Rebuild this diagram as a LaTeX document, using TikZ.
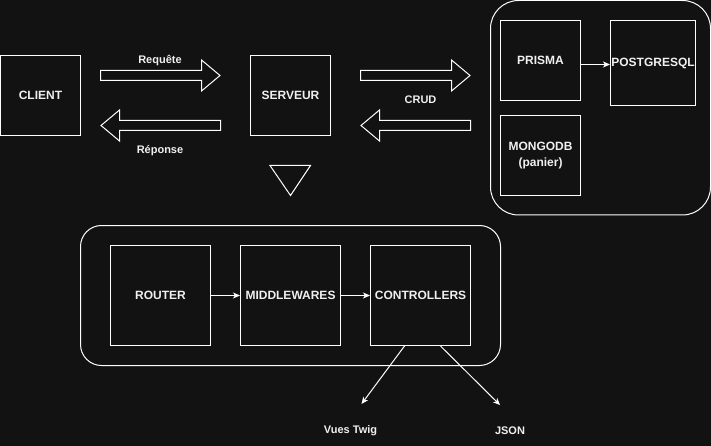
\documentclass[tikz,border=0pt]{standalone}
\usepackage{fontspec}
\setmainfont{Liberation Sans}
\usetikzlibrary{arrows.meta}
\definecolor{bg}{HTML}{121212}
\definecolor{fg}{HTML}{F0F0F0}
\begin{document}
\begin{tikzpicture}[x=1pt,y=-1pt,
  box/.style={draw=white,line width=1pt,inner sep=0pt,text=fg,
    font=\bfseries\fontsize{12}{16}\selectfont,align=center},
  lbl/.style={text=fg,font=\bfseries\fontsize{11}{13}\selectfont,inner sep=0pt},
  conn/.style={draw=white,line width=1pt,-{Stealth[length=7pt,width=6pt,inset=2pt]}},
  blockarrow/.style={draw=white,line width=1pt,line join=miter},
  container/.style={draw=white,line width=1pt}]
\fill[bg] (0,0) rectangle (711,446);
\useasboundingbox (0,0) rectangle (711,446);

% containers
\draw[container,rounded corners=28pt] (490.5,0.5) rectangle (710.5,215);
\draw[container,rounded corners=21pt] (80.5,225.5) rectangle (500.5,365.5);

% boxes
\node[box,minimum width=80pt,minimum height=80pt] (client) at (40.5,95.5) {CLIENT};
\node[box,minimum width=80pt,minimum height=80pt] (serveur) at (290.5,95.5) {SERVEUR};
\node[box,minimum width=80pt,minimum height=80pt] (prisma) at (540.5,60.5) {PRISMA};
\node[box,minimum width=85pt,minimum height=85pt] (postgres) at (653,63) {POSTGRESQL};
\node[box,minimum width=80pt,minimum height=80pt] (mongo) at (540.5,155.5) {MONGODB\\(panier)};
\node[box,minimum width=100pt,minimum height=100pt] (router) at (160.5,295.5) {ROUTER};
\node[box,minimum width=100pt,minimum height=100pt] (middle) at (290.5,295.5) {MIDDLEWARES};
\node[box,minimum width=100pt,minimum height=100pt] (ctrl) at (420.5,295.5) {CONTROLLERS};

% block arrows
\draw[blockarrow] (100.5,70.5) -- (201.5,70.5) -- (201.5,60) -- (220,75.5) -- (201.5,91) -- (201.5,80.5) -- (100.5,80.5) -- cycle;
\draw[blockarrow] (220.5,120.5) -- (119.5,120.5) -- (119.5,110) -- (101,125.5) -- (119.5,141) -- (119.5,130.5) -- (220.5,130.5) -- cycle;
\draw[blockarrow] (360.5,70.5) -- (451.5,70.5) -- (451.5,60) -- (470,75.5) -- (451.5,91) -- (451.5,80.5) -- (360.5,80.5) -- cycle;
\draw[blockarrow] (470.5,120.5) -- (379.5,120.5) -- (379.5,110) -- (361,125.5) -- (379.5,141) -- (379.5,130.5) -- (470.5,130.5) -- cycle;
\draw[blockarrow] (270,165.5) -- (310.5,165.5) -- (290.5,195.5) -- cycle;

% labels
\node[lbl] (req) at (160,61) {Requête};
\node[lbl] (rep) at (160,151) {Réponse};
\node[lbl] (crud) at (420.5,100) {CRUD};
\node[lbl] (twig) at (350.5,431) {Vues Twig};
\node[lbl] (json) at (510,431) {JSON};

% connectors
\coordinate (twigend) at (361.5,404);
\coordinate (jsonend) at (500,405);
\draw[conn] ([yshift=-4pt]prisma.east) -- ([yshift=-4pt]prisma.east -| postgres.west);
\draw[conn] (router.east) -- (middle.west);
\draw[conn] (middle.east) -- (ctrl.west);
\draw[conn] ([xshift=-16pt]ctrl.south) -- (twigend);
\draw[conn] ([xshift=20pt]ctrl.south) -- (jsonend);
\end{tikzpicture}
\end{document}
